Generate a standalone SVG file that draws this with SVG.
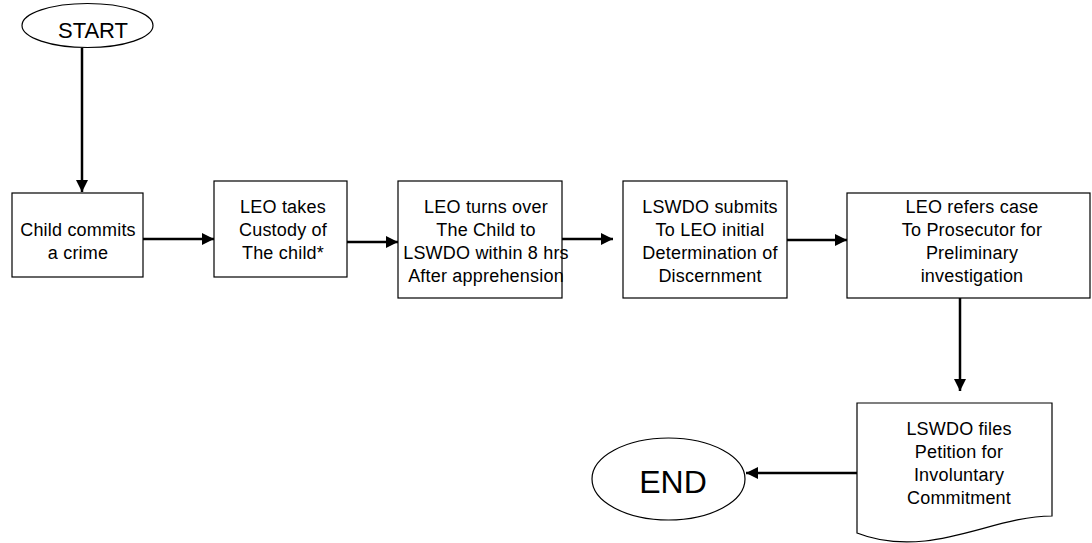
<svg xmlns="http://www.w3.org/2000/svg" width="1092" height="543" viewBox="0 0 1092 543">
<defs>
<style>
.shape{fill:#fff;stroke:#000;stroke-width:1.2}
.t{font-family:"Liberation Sans",Arial,sans-serif;font-size:18px;letter-spacing:0.2px;fill:#000;text-anchor:middle}
.conn{stroke:#000;stroke-width:2.5;fill:none}
</style>
<marker id="ah" markerUnits="userSpaceOnUse" markerWidth="12" markerHeight="12" viewBox="0 0 12 12" refX="12" refY="6" orient="auto">
<path d="M0,0 L12,6 L0,12 z" fill="#000"/>
</marker>
</defs>
<rect width="1092" height="543" fill="#fff"/>
<g id="start">
<ellipse class="shape" cx="87.5" cy="25.5" rx="65.5" ry="22"/>
<text class="t" x="93" y="38" style="font-size:22px;letter-spacing:0">START</text>
</g>
<g id="n1">
<rect class="shape" x="12" y="193" width="131" height="84"/>
<text class="t" x="78" y="236">Child commits</text>
<text class="t" x="78" y="259">a crime</text>
</g>
<g id="n2">
<rect class="shape" x="214" y="181" width="133" height="96"/>
<text class="t" x="283" y="213">LEO takes</text>
<text class="t" x="283" y="236">Custody of</text>
<text class="t" x="283" y="259">The child*</text>
</g>
<g id="n3">
<rect class="shape" x="398" y="181" width="164" height="117"/>
<text class="t" x="486" y="213">LEO turns over</text>
<text class="t" x="486" y="236">The Child to</text>
<text class="t" x="486" y="259">LSWDO within 8 hrs</text>
<text class="t" x="486" y="282">After apprehension</text>
</g>
<g id="n4">
<rect class="shape" x="623" y="181" width="164" height="117"/>
<text class="t" x="710" y="213">LSWDO submits</text>
<text class="t" x="710" y="236">To LEO initial</text>
<text class="t" x="710" y="259">Determination of</text>
<text class="t" x="710" y="282">Discernment</text>
</g>
<g id="n5">
<rect class="shape" x="847" y="193" width="243" height="105"/>
<text class="t" x="972" y="213">LEO refers case</text>
<text class="t" x="972" y="236">To Prosecutor for</text>
<text class="t" x="972" y="259">Preliminary</text>
<text class="t" x="972" y="282">investigation</text>
</g>
<g id="n6">
<path class="shape" d="M857,403 H1052 V516 C1010,516 970,536 925,541 C895,544 872,539 857,533 Z"/>
<text class="t" x="959" y="435">LSWDO files</text>
<text class="t" x="959" y="458">Petition for</text>
<text class="t" x="959" y="481">Involuntary</text>
<text class="t" x="959" y="504">Commitment</text>
</g>
<g id="end">
<ellipse class="shape" cx="668.5" cy="479" rx="76.5" ry="41"/>
<text class="t" x="673" y="493" style="font-size:32px;letter-spacing:0">END</text>
</g>
<g id="connectors">
<line class="conn" x1="82" y1="48" x2="82" y2="192" marker-end="url(#ah)"/>
<line class="conn" x1="143" y1="239" x2="214" y2="239" marker-end="url(#ah)"/>
<line class="conn" x1="347" y1="242" x2="398" y2="242" marker-end="url(#ah)"/>
<line class="conn" x1="562" y1="239" x2="613" y2="239" marker-end="url(#ah)"/>
<line class="conn" x1="787" y1="240" x2="847" y2="240" marker-end="url(#ah)"/>
<line class="conn" x1="960" y1="298" x2="960" y2="391" marker-end="url(#ah)"/>
<line class="conn" x1="857" y1="473" x2="746" y2="473" marker-end="url(#ah)"/>
</g>
</svg>
